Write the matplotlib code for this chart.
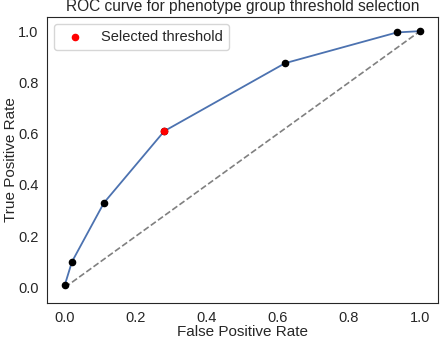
import numpy as np
import matplotlib.pyplot as plt
import seaborn as sns

sns.set_style("white")
plt.rcParams['font.family'] = ['Liberation Sans', 'DejaVu Sans']

fpr = [0.0, 0.02, 0.11, 0.28, 0.62, 0.935, 1.0]
tpr = [0.01, 0.10, 0.33, 0.61, 0.875, 0.995, 1.0]
sel = 3  # selected threshold index

fig, ax = plt.subplots(figsize=(4.4, 3.41), dpi=100)
ax.plot([0, 1], [0, 1], linestyle='--', color='gray', lw=1.2)
ax.plot(fpr, tpr, color='#4c72b0', lw=1.3, zorder=2)
ax.scatter(fpr, tpr, color='black', s=20, zorder=3)
ax.scatter([fpr[sel]], [tpr[sel]], color='red', s=20, zorder=4, label='Selected threshold')

ax.set_xlim(-0.05, 1.05)
ax.set_ylim(-0.06, 1.055)
ax.set_xticks([0, 0.2, 0.4, 0.6, 0.8, 1.0])
ax.set_yticks([0, 0.2, 0.4, 0.6, 0.8, 1.0])
ax.tick_params(labelsize=10.5, length=0, pad=6)
ax.set_xlabel('False Positive Rate', fontsize=11, labelpad=0)
ax.set_ylabel('True Positive Rate', fontsize=11, labelpad=0)
ax.set_title('ROC curve for phenotype group threshold selection', fontsize=11.2, pad=4)
ax.legend(loc='upper left', fontsize=10.5)

fig.subplots_adjust(left=0.107, right=0.995, top=0.95, bottom=0.112)
fig.savefig('out.png')
